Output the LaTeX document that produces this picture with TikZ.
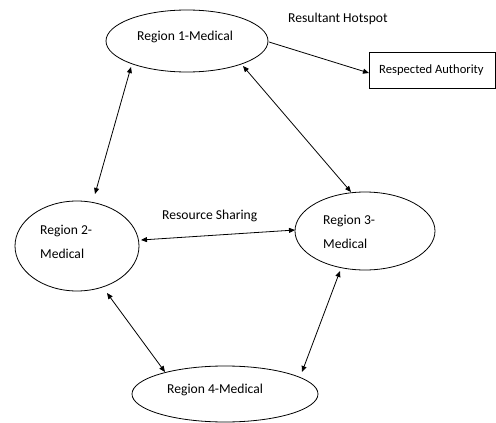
\documentclass[tikz,border=0pt]{standalone}
\usepackage{fontspec}
\setmainfont{Carlito}
\usetikzlibrary{shapes.geometric,arrows.meta}
\begin{document}
\begin{tikzpicture}[x=1pt,y=-1pt,
  lbl/.style={font=\fontsize{13.6}{16}\selectfont,inner sep=0pt,anchor=west},
  conn/.style={line width=0.8pt,{Triangle[length=6pt,width=5pt]}-{Triangle[length=6pt,width=5pt]}},
  oneway/.style={line width=0.8pt,-{Triangle[length=6pt,width=5pt]}}]
\useasboundingbox[fill=white] (0,0) rectangle (496,423);
% ellipses
\draw[line width=0.8pt] (187,41) ellipse [x radius=81, y radius=31];
\draw[line width=0.8pt] (77,246) ellipse [x radius=62, y radius=45];
\draw[line width=0.8pt] (365,231) ellipse [x radius=70, y radius=39];
\draw[line width=0.8pt] (225,394) ellipse [x radius=93, y radius=28];
\node[lbl] (t1) at (137,37) {Region 1-Medical};
\node[lbl,align=left,font=\fontsize{13.6}{24}\selectfont] (t2) at (40,242) {Region 2-\\Medical};
\node[lbl,align=left,font=\fontsize{13.6}{24}\selectfont] (t3) at (323,232) {Region 3-\\Medical};
\node[lbl] (t4) at (167,390) {Region 4-Medical};
\node[lbl] (hot) at (288,19) {Resultant Hotspot};
\node[lbl] (res) at (162,216) {Resource Sharing};
\node[draw,line width=0.8pt,minimum width=126pt,minimum height=36pt,inner sep=0pt] (auth) at (432,70) {};
\node[lbl,font=\fontsize{12.6}{15}\selectfont] (authtext) at (379,70) {Respected Authority};
% connectors
\coordinate (a1) at (269,42); \coordinate (a2) at (369,73);
\coordinate (b1) at (131,67); \coordinate (b2) at (95,194);
\coordinate (c1) at (243,66); \coordinate (c2) at (351,192);
\coordinate (d1) at (141,240); \coordinate (d2) at (295,230);
\coordinate (e1) at (107,293); \coordinate (e2) at (165,372);
\coordinate (f1) at (340,271); \coordinate (f2) at (302,372);
\draw[oneway] (a1) -- (a2);
\draw[conn] (b1) -- (b2);
\draw[conn] (c1) -- (c2);
\draw[conn] (d1) -- (d2);
\draw[conn] (e1) -- (e2);
\draw[conn] (f1) -- (f2);
\end{tikzpicture}
\end{document}
